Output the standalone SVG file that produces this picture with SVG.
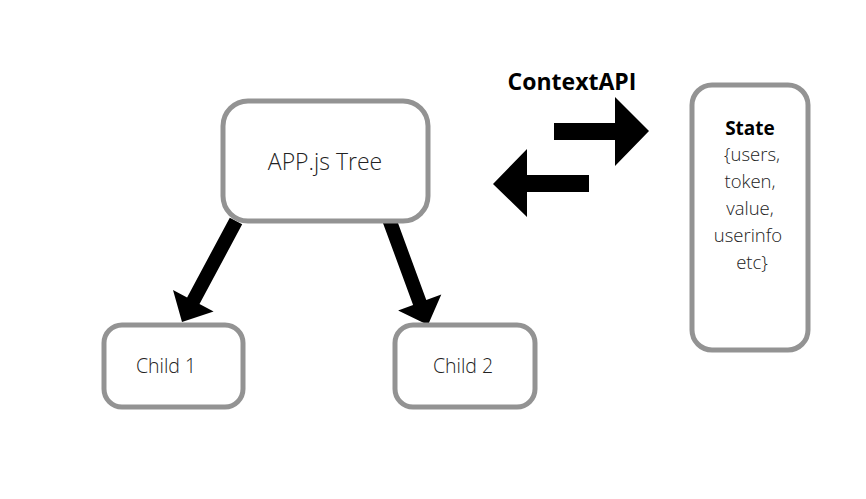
<svg xmlns="http://www.w3.org/2000/svg" width="866" height="499" viewBox="0 0 866 499">
<style>
.box{fill:#fff;stroke:#939393;stroke-width:5}
.lt{font-family:"Open Sans","Liberation Sans",sans-serif;font-weight:300;fill:#222;text-anchor:middle}
.bd{font-family:"Open Sans","Liberation Sans",sans-serif;font-weight:700;fill:#000;text-anchor:middle}
.arr{fill:#000}
</style>
<rect width="866" height="499" fill="#fff"/>
<g id="connectors">
<polygon class="arr" points="229.8,217.7 242.2,224.3 199.5,304.1 213.6,311.6 182,322 173,290 187.1,297.5"/>
<polygon class="arr" points="382.4,221.4 395.6,216.6 426.3,300.1 441.3,294.6 428,325 398.1,310.4 413.1,304.9"/>
<polygon class="arr" points="554,123 615,123 615,97 649,131 615,166 615,140 554,140"/>
<polygon class="arr" points="589,175 527,175 527,149 493,184 527,217 527,192 589,192"/>
</g>
<g id="app">
<rect class="box" x="223" y="101" width="205" height="120" rx="25"/>
<text class="lt" x="325" y="170" font-size="23">APP.js Tree</text>
</g>
<g id="child1">
<rect class="box" x="104" y="325" width="139" height="82" rx="18"/>
<text class="lt" x="166" y="373" font-size="19.5">Child 1</text>
</g>
<g id="child2">
<rect class="box" x="395" y="325" width="140" height="82" rx="18"/>
<text class="lt" x="463" y="373" font-size="19.5">Child 2</text>
</g>
<g id="contextapi">
<text class="bd" x="572" y="90" font-size="23">ContextAPI</text>
</g>
<g id="state">
<rect class="box" x="692" y="85" width="116" height="265" rx="20"/>
<text class="bd" x="750" y="135" font-size="19">State</text>
<text class="lt" font-size="18.5"><tspan x="752" y="161">{users,</tspan><tspan x="750" y="188">token,</tspan><tspan x="750" y="215">value,</tspan><tspan x="748" y="242">userinfo</tspan><tspan x="752" y="269">etc}</tspan></text>
</g>
</svg>
